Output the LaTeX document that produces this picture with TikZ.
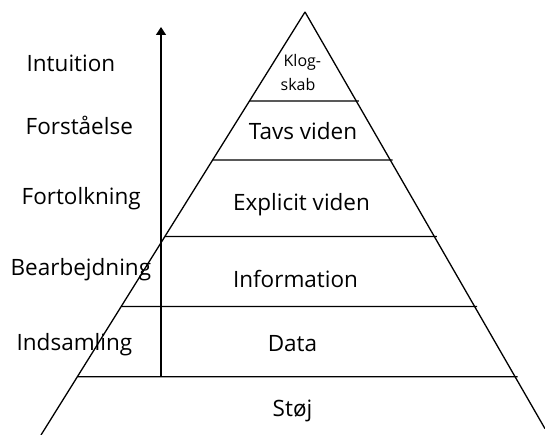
\documentclass[tikz,border=0pt]{standalone}
\usepackage{fontspec}
\setmainfont{Open Sans}
\usetikzlibrary{intersections,arrows.meta}

\begin{document}
\begin{tikzpicture}[x=1pt,y=-1pt,line width=1.3pt,
  lbl/.style={inner sep=0pt,anchor=base,font=\fontsize{22.5}{27}\selectfont},
  side/.style={lbl,anchor=base west},
  small/.style={inner sep=0pt,anchor=base west,font=\fontsize{16}{19}\selectfont}]
\useasboundingbox (0,0) rectangle (545,435);
%\draw[help lines, color=gray!30] (0,0) grid[step=50] (545,435);
\coordinate (apex) at (305,12);
\coordinate (baseL) at (41,435);
\coordinate (baseR) at (545,428.7);
\draw[name path=leftedge] (apex)--(baseL);
\draw[name path=rightedge] (apex)--(baseR);
% layer lines
\foreach \y [count=\i] in {101,160,236.5,306.5,376.7}{
  \path[name path=lvl] (0,\y)--(545,\y);
  \path[name intersections={of=leftedge and lvl,by=l\i}];
  \path[name intersections={of=rightedge and lvl,by=r\i}];
  \draw[shorten >=-2.5pt] (l\i)--(r\i);
}
\coordinate (arrowtop) at (161,27);
\draw[-{Triangle[width=10pt,length=8pt]}] (l5 -| arrowtop)--(arrowtop);

\node[side] (intuition) at (26,72) {Intuition};
\node[side] (forstaaelse) at (25,135) {Forståelse};
\node[side] (fortolkning) at (21,205) {Fortolkning};
\node[side] (bearbejdning) at (10,275) {Bearbejdning};
\node[side] (indsamling) at (16,350) {Indsamling};

\node[small] (klog) at (283,67) {Klog-};
\node[small] (skab) at (280,91) {skab};
\node[lbl] (tavs) at (303,140) {Tavs viden};
\node[lbl] (explicit) at (301.5,211) {Explicit viden};
\node[lbl] (information) at (295.5,287) {Information};
\node[lbl] (data) at (292.5,351) {Data};
\node[lbl] (stoej) at (292.5,416) {Støj};
\end{tikzpicture}
\end{document}
